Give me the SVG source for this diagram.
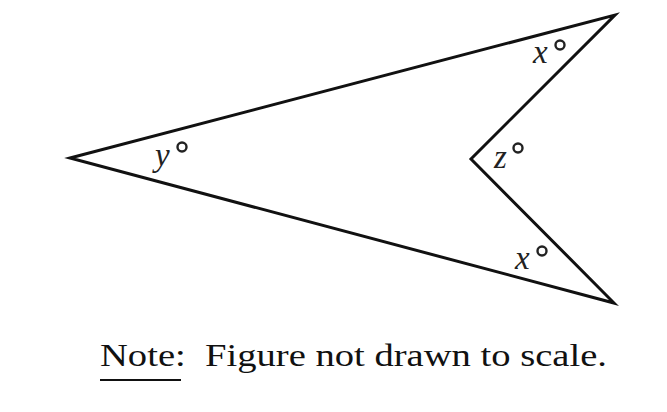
<svg xmlns="http://www.w3.org/2000/svg" width="667" height="412" viewBox="0 0 667 412">
<style>
.edge{fill:none;stroke:#111;stroke-width:3;stroke-linejoin:miter}
.lbl{font-family:"Liberation Serif",serif;font-style:italic;font-size:33px;fill:#222}
.deg{fill:none;stroke:#222;stroke-width:2.4}
.note{font-family:"Liberation Serif",serif;font-size:31px;fill:#111}
</style>
<rect width="667" height="412" fill="#fff"/>
<g id="connectors">
<polygon class="edge" points="70,158 615,15 471,159 614,303"/>
</g>
<g id="angle-y">
<text class="lbl" x="155" y="166">y</text>
<circle class="deg" cx="182" cy="147" r="4.5"/>
</g>
<g id="angle-x-top">
<text class="lbl" x="533" y="63">x</text>
<circle class="deg" cx="560" cy="45" r="4.5"/>
</g>
<g id="angle-z">
<text class="lbl" x="494" y="168">z</text>
<circle class="deg" cx="518" cy="148" r="4.5"/>
</g>
<g id="angle-x-bottom">
<text class="lbl" x="515" y="269">x</text>
<circle class="deg" cx="542" cy="251" r="4.5"/>
</g>
<g id="note">
<text class="note" x="100" y="366" textLength="507" lengthAdjust="spacingAndGlyphs" xml:space="preserve">Note:  Figure not drawn to scale.</text>
<line x1="100" y1="380" x2="181" y2="380" stroke="#111" stroke-width="2"/>
</g>
</svg>
